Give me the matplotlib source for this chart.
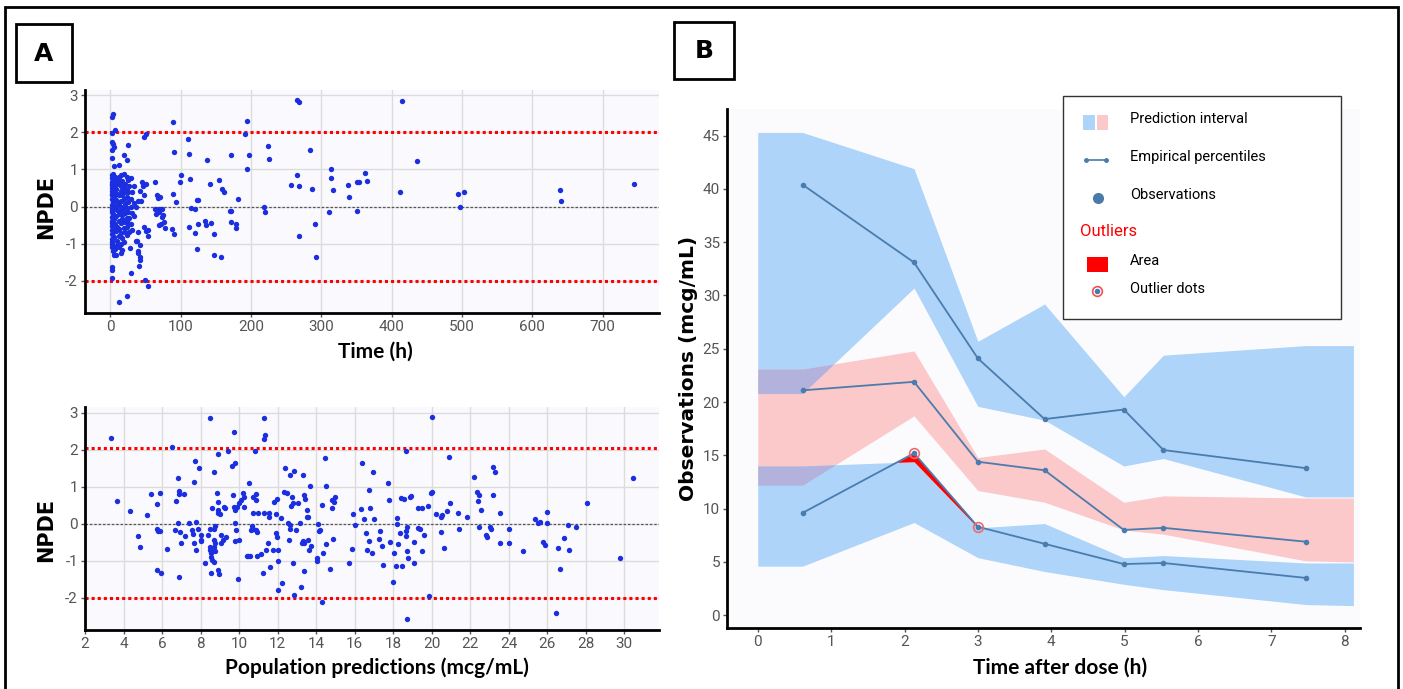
import numpy as np
import matplotlib
matplotlib.use("Agg")
import matplotlib.pyplot as plt
from matplotlib.patches import Rectangle
from matplotlib.lines import Line2D

plt.rcParams["axes.unicode_minus"] = False

W, H = 1403, 689

# ---- panel A top: NPDE vs time ----
time_pts = [
    (2, 2.40), (2, 1.97), (2, 1.75), (2, 1.52), (2, 1.30), (2, 0.85), (2, 0.78), (2, 0.65),
    (2, 0.58), (2, 0.50), (2, 0.42), (2, 0.30), (2, 0.20), (2, 0.05), (2, -0.05), (2, -0.15),
    (2, -0.28), (2, -0.40), (2, -0.52), (2, -0.62), (2, -0.75), (2, -0.88), (2, -1.00),
    (2, -1.10), (2, -1.62), (2, -1.93),
    (3, 0.60), (3, 0.35), (3, -0.10), (3, -0.45), (3, -0.95), (3, -1.72),
    (4, 2.49), (4, 1.69), (4, 0.88), (4, 0.72), (4, 0.12), (4, -0.20), (4, -0.70), (4, -1.20),
    (5, 1.60), (5, 1.10), (5, 0.55), (5, 0.40), (5, 0.25), (5, -0.02), (5, -0.35), (5, -0.60),
    (5, -0.82), (5, -1.08), (5, -1.32),
    (6, 2.06), (6, 0.80), (6, 0.45), (6, -0.48), (6, -1.15),
    (8, 0.48), (8, 0.18), (8, -0.25), (8, -0.66), (8, -1.30), (8, 0.70),
    (10, 0.62), (10, 0.35), (10, 0.05), (10, -0.10), (10, -0.55), (10, -0.92), (10, -1.05),
    (12, 0.80), (12, 0.30), (12, -0.38), (12, -0.80), (12, -1.10),
    (13, 1.12), (13, 0.65), (13, 0.10), (13, -0.20), (13, -0.60),
    (15, 0.85), (15, 0.55), (15, 0.42), (15, 0.15), (15, 0.0), (15, -0.12), (15, -0.45),
    (15, -0.72), (15, -1.02), (15, -1.25),
    (17, 0.70), (17, 0.30), (17, -0.22), (17, -0.35), (17, -0.85), (17, -1.18),
    (19, 1.40), (19, 0.88), (19, 0.50), (19, 0.20), (19, -0.05), (19, -0.58), (19, -0.95),
    (21, 0.62), (21, 0.38), (21, 0.08), (21, -0.18), (21, -0.42), (21, -0.70),
    (23, 1.26), (23, 0.80), (23, 0.45), (23, 0.25), (23, -0.05), (23, -0.30), (23, -0.55),
    (23, -0.78),
    (25, 1.66), (25, 0.72), (25, 0.40), (25, 0.12), (25, -0.15), (25, -0.45),
    (27, 0.55), (27, -0.30), (27, -0.70), (28, -1.13),
    (29, 0.78), (29, 0.20), (29, 0.0), (29, -0.48), (29, -1.79),
    (31, 0.38), (31, -0.18), (31, -0.62),
    (34, 0.55), (34, 0.10), (34, -0.25),
    (37, -0.92), (37, 0.0),
    (13, -2.58), (24, -2.42),
    (40, 0.15), (44, 0.15), (42, 0.43), (45, 0.65), (46, 0.55), (48, 0.31), (51, 0.61),
    (48, 1.88), (51, 1.96), (40, -0.70), (42, -1.05), (40, -1.20), (38, -0.94),
    (40, -1.25), (42, -1.35), (42, -1.45), (41, -1.59), (48, -0.55), (51, -0.65),
    (53, -0.62), (54, -0.80), (50, -1.97), (53, -2.13),
    (63, 0.65), (66, 0.30), (70, 0.26), (68, 0.22), (64, -0.07), (69, -0.07), (73, -0.07),
    (65, -0.20), (69, -0.15), (73, -0.28), (75, -0.22), (69, -0.50), (72, -0.46),
    (76, -0.43), (78, -0.59),
    (89, 2.29), (91, 1.48), (89, 0.33), (93, 0.13), (88, -0.60), (90, -0.74),
    (99, 0.67), (100, 0.84), (110, 1.81), (112, 1.42), (113, 0.75), (115, -0.04),
    (121, -0.07), (123, 0.18), (124, 0.18), (112, -0.54), (121, -0.72), (124, -0.48),
    (123, -1.15), (137, 1.24), (142, 0.62), (134, -0.38), (136, -0.51), (143, -0.45),
    (147, -0.74), (148, -1.32), (155, 0.71), (159, 0.48), (161, 0.38), (158, -1.35),
    (170, -0.13), (172, -0.13), (171, 1.39), (171, -0.42), (178, -0.48), (178, -0.57),
    (181, 0.19), (192, 1.95), (195, 2.31), (197, 1.38), (195, 1.00),
    (218, 0.00), (220, -0.15), (224, 1.64), (226, 1.29),
    (257, 0.59), (265, 2.87), (268, 2.83), (266, 0.85), (268, 0.56), (268, -0.79),
    (284, 1.52), (287, 0.48), (291, -0.47), (293, -1.36),
    (311, -0.15), (314, 1.00), (314, 0.76), (316, 0.44), (338, 0.57), (340, 0.25),
    (350, -0.13), (351, 0.65), (353, 0.65), (362, 0.91), (365, 0.69),
    (412, 0.40), (414, 2.85), (436, 1.22), (494, 0.35), (497, -0.01), (503, 0.39),
    (639, 0.44), (641, 0.16), (744, 0.60),
]

# ---- panel A bottom: NPDE vs population predictions ----
pred_pts = [
    (3.34, 2.32), (3.67, 0.61), (4.34, 0.34), (5.22, 0.23), (4.76, -0.33), (4.83, -0.64),
    (5.43, 0.81), (5.76, 0.52), (5.90, 0.84), (5.75, -0.15), (5.81, -0.19), (5.87, -0.19),
    (5.73, -1.25), (5.92, -1.33), (6.27, -0.68), (6.54, 2.06), (6.71, 0.61), (6.82, 1.22),
    (6.87, 0.89), (6.89, 0.80), (6.82, 0.02), (6.68, -0.18), (6.91, -0.22), (7.00, -0.52),
    (6.89, -1.44), (7.12, 0.80), (7.17, -0.33), (7.42, 0.02), (7.54, -0.17), (7.63, -0.29),
    (7.65, -0.51), (7.65, 1.12), (7.70, 1.70), (7.74, 0.05), (7.77, -0.71), (7.86, -0.13),
    (7.93, 1.49), (8.00, -0.30), (8.04, -0.44), (8.04, -0.47), (8.25, -1.05), (8.40, -0.30),
    (8.49, -0.13), (8.49, 2.84), (8.58, 0.43), (8.50, -0.62), (8.50, -0.72), (8.54, -0.80),
    (8.54, -0.89), (8.58, -0.98), (8.54, -1.34), (8.68, -0.13), (8.77, -0.06), (8.68, 1.39),
    (8.68, -0.44), (8.77, -0.53), (8.72, -0.62), (8.77, -0.73), (8.68, -1.04), (8.84, 0.83),
    (8.88, 0.59), (8.93, 0.38), (8.93, 0.30), (9.00, 0.25), (8.93, 1.87), (8.93, -1.25),
    (8.95, -1.35), (9.04, -0.30), (9.16, -0.44), (9.07, -0.53), (9.21, 0.46), (9.25, 0.43),
    (9.42, 1.96), (9.30, -0.35), (9.63, 1.56), (9.81, 1.65), (9.67, 0.77), (9.72, 0.44),
    (9.81, 0.37), (9.88, 0.46), (9.74, 2.48), (9.79, 0.01), (9.83, -0.17), (9.81, -0.47),
    (9.95, -1.50), (10.02, -0.44), (10.00, 0.55), (10.11, 0.64), (10.18, 0.82),
    (10.23, 0.73), (10.25, 0.46), (10.53, 1.09), (10.40, -0.86), (10.48, -0.86),
    (10.58, -0.86), (10.60, -0.18), (10.69, -0.05), (10.74, -0.13), (10.88, -0.17),
    (10.95, -0.22), (10.72, 0.28), (10.74, 0.72), (10.88, 0.81), (10.90, 0.64), (10.80, 1.96),
    (10.97, 0.30), (10.95, -0.86), (11.13, -0.83), (11.22, -1.33), (11.27, 2.85),
    (11.27, 2.29), (11.36, 2.39), (11.30, 0.30), (11.53, 0.30), (11.40, -0.72),
    (11.50, -0.53), (11.57, 0.17), (11.60, -1.16), (11.74, -0.71), (11.80, 0.59),
    (11.92, 0.25), (11.92, -0.24), (11.97, 0.67), (12.00, -0.71), (11.97, -0.35),
    (12.00, -1.00), (12.00, -1.78), (12.15, 0.15), (12.25, -1.60), (12.34, 0.86),
    (12.40, 1.51), (12.48, 0.82), (12.52, 0.03), (12.62, -0.04), (12.66, -0.13),
    (12.57, -0.44), (12.62, 1.31), (12.70, 0.48), (12.75, 0.73), (12.82, 0.56),
    (12.78, -1.05), (12.83, -1.92), (12.87, 1.42), (12.94, -0.17), (13.05, 0.56),
    (13.17, 0.03), (13.24, -0.53), (13.36, -0.53), (13.30, -0.48), (13.30, 1.31),
    (13.36, 0.77), (13.43, 0.66), (13.36, -1.29), (13.50, 0.19), (13.60, 0.19),
    (13.20, -1.72), (13.52, 0.37), (13.60, -0.44), (13.64, -0.71), (13.73, -0.60),
    (13.68, 1.02), (14.10, -0.02), (14.15, -0.20), (14.20, -0.17), (14.03, -0.92),
    (14.07, -1.02), (14.33, 0.50), (14.33, -2.12), (14.38, -0.80), (14.45, 1.76),
    (14.50, -0.55), (14.52, 1.01), (14.70, -1.21), (14.80, 0.43), (14.84, 0.65),
    (14.91, 0.59), (15.00, 0.72), (14.87, -0.41), (15.70, -1.07), (15.88, -0.69),
    (15.90, 0.26), (16.00, -0.03), (16.33, 0.39), (16.37, 1.64), (16.50, 0.13),
    (16.58, -0.26), (16.65, -0.71), (16.74, 0.91), (16.74, -0.47), (16.79, 0.43),
    (16.90, -0.80), (16.97, 1.40), (17.00, 0.13), (17.27, -0.42), (17.34, -0.21),
    (17.40, -0.60), (17.47, -1.11), (17.72, 1.11), (17.76, 0.64), (17.83, -0.50),
    (18.00, -1.58), (18.06, -0.78), (18.13, -1.13), (18.18, 0.16), (18.22, -0.02),
    (18.25, -0.56), (18.34, -0.24), (18.43, 0.68), (18.55, 0.66), (18.48, -1.14),
    (18.64, -0.19), (18.71, -0.08), (18.67, -0.33), (18.69, 1.96), (18.71, -0.73),
    (18.74, -2.57), (18.76, -0.93), (18.85, 0.71), (18.90, 0.74), (19.08, -0.50),
    (19.08, -1.07), (19.27, -0.11), (19.38, -0.13), (19.27, 0.43), (19.50, 0.43),
    (19.47, -0.75), (19.60, -0.30), (19.83, 0.47), (19.88, -1.95), (19.96, 0.82),
    (20.03, 0.86), (20.00, 2.87), (20.22, 0.25), (20.50, -0.23), (20.50, 0.17),
    (20.53, 0.23), (20.66, -0.66), (20.78, 0.34), (20.90, 1.80), (20.96, 0.57),
    (21.38, 0.30), (21.40, -0.15), (21.84, 0.19), (22.17, 1.26), (22.33, 0.86),
    (22.40, 0.62), (22.44, -0.08), (22.47, 0.77), (22.54, 0.37), (22.80, -0.31),
    (22.86, -0.35), (23.05, -0.10), (23.10, -0.15), (23.16, 1.53), (23.19, 0.77),
    (23.30, 1.40), (23.53, 0.28), (23.55, -0.53), (24.02, -0.13), (24.02, -0.53),
    (24.76, -0.74), (25.37, 0.14), (25.50, 0.01), (25.60, 0.05), (25.80, -0.49),
    (25.90, -0.57), (25.97, 0.03), (26.00, 0.32), (26.45, -2.41), (26.57, -0.66),
    (26.66, -1.23), (26.85, -0.39), (27.08, -0.04), (27.15, -0.71), (27.50, -0.08),
    (28.08, 0.57), (29.77, -0.93), (30.47, 1.24),
]

# ---- panel B: VPC ----
t_band = [0, 0.61, 2.13, 3.0, 3.91, 4.99, 5.53, 7.47, 8.12]
upper_hi = [45.3, 45.3, 41.9, 25.7, 29.2, 20.5, 24.4, 25.3, 25.3]
upper_lo = [20.8, 20.8, 30.7, 19.6, 18.3, 14.0, 14.7, 11.1, 11.1]
median_hi = [23.1, 23.1, 24.8, 14.8, 15.6, 10.6, 11.2, 11.0, 11.0]
median_lo = [12.2, 12.2, 18.7, 11.7, 10.6, 8.0, 7.6, 5.1, 5.0]
lower_hi = [14.0, 14.0, 14.4, 8.2, 8.6, 5.4, 5.6, 4.9, 4.9]
lower_lo = [4.6, 4.6, 8.7, 5.4, 4.1, 2.9, 2.4, 1.0, 0.9]

t_emp = [0.61, 2.13, 3.0, 3.91, 4.99, 5.53, 7.47]
p90 = [40.4, 33.1, 24.1, 18.4, 19.3, 15.5, 13.8]
p50 = [21.1, 21.9, 14.4, 13.6, 8.0, 8.2, 6.9]
p10 = [9.6, 15.2, 8.3, 6.7, 4.8, 4.9, 3.5]
outlier_t = [2.13, 3.0]
outlier_v = [15.2, 8.3]

BLUE = "#aed4fa"
PINK = "#fbc9ca"
PURPLE = "#b2b2dc"
LINE = "#4a7cad"
DOT = "#1b2fe0"
TICKFONT = ["Roboto", "DejaVu Sans"]


def ax_rect(x0, y0, x1, y1):
    return [x0 / W, 1 - y1 / H, (x1 - x0) / W, (y1 - y0) / H]


def fx(x):
    return x / W


def fy(y):
    return 1 - y / H


def style(ax, grid=True):
    ax.set_facecolor("#fafafe")
    for s in ["top", "right"]:
        ax.spines[s].set_visible(False)
    for s in ["left", "bottom"]:
        ax.spines[s].set_linewidth(2)
        ax.spines[s].set_color("black")
    ax.tick_params(length=3, width=1, colors="#555555", labelsize=11, pad=2)
    for lab in ax.get_xticklabels() + ax.get_yticklabels():
        lab.set_family(TICKFONT)
    if grid:
        ax.grid(True, color="#dcdcdc", lw=1)
        ax.set_axisbelow(True)


fig = plt.figure(figsize=(W / 100, H / 100), dpi=100)

# top-left
ax1 = fig.add_axes(ax_rect(85, 90, 659, 313))
tp = np.array(time_pts)
ax1.scatter(tp[:, 0], tp[:, 1], s=15, color=DOT, zorder=3, linewidths=0)
ax1.axhline(2, color="red", ls=(0, (1, 1)), lw=2.2, zorder=2)
ax1.axhline(-2, color="red", ls=(0, (1, 1)), lw=2.2, zorder=2)
ax1.axhline(0, color="#555555", ls=(0, (2, 1.5)), lw=0.9, zorder=2)
ax1.set_xlim(-36, 780)
ax1.set_ylim(-2.87, 3.14)
ax1.set_xticks(range(0, 800, 100))
ax1.set_yticks([-2, -1, 0, 1, 2, 3])
style(ax1)

# bottom-left
ax2 = fig.add_axes(ax_rect(85, 407, 659, 630))
pp = np.array(pred_pts)
ax2.scatter(pp[:, 0], pp[:, 1], s=15, color=DOT, zorder=3, linewidths=0)
ax2.axhline(2.05, color="red", ls=(0, (1, 1)), lw=2.2, zorder=2)
ax2.axhline(-2, color="red", ls=(0, (1, 1)), lw=2.2, zorder=2)
ax2.axhline(0, color="#555555", ls=(0, (2, 1.5)), lw=0.9, zorder=2)
ax2.set_xlim(2, 31.8)
ax2.set_ylim(-2.87, 3.15)
ax2.set_xticks(range(2, 32, 2))
ax2.set_yticks([-2, -1, 0, 1, 2, 3])
style(ax2)

# right: VPC
ax3 = fig.add_axes(ax_rect(727, 109, 1360, 628))
tb = np.array(t_band)
ax3.fill_between(tb, upper_lo, upper_hi, color=BLUE, lw=0, zorder=1)
ax3.fill_between(tb, median_lo, median_hi, color=PINK, lw=0, zorder=1)
ax3.fill_between(tb, lower_lo, lower_hi, color=BLUE, lw=0, zorder=1)
uh, ul = np.array(median_hi), np.array(upper_lo)
ax3.fill_between(tb, ul, uh, where=uh > ul, interpolate=True, color=PURPLE, lw=0, zorder=1.5)
lh, ml = np.array(lower_hi), np.array(median_lo)
ax3.fill_between(tb, ml, lh, where=lh > ml, interpolate=True, color=PURPLE, lw=0, zorder=1.5)
lb = np.array(lower_hi[1:-1])
pe = np.array(p10)
ax3.fill_between(t_emp, lb, pe, where=pe > lb, interpolate=True, color="red", lw=0, zorder=2)
for series in (p90, p50, p10):
    ax3.plot(t_emp, series, color=LINE, lw=1.3, marker="o", ms=3, zorder=3)
ax3.plot(outlier_t, outlier_v, ls="none", marker="o", ms=7, mfc="none", mec="#f06a6a",
         mew=1.2, zorder=4)
ax3.set_xlim(-0.42, 8.21)
ax3.set_ylim(-1.2, 47.5)
ax3.set_xticks(range(0, 9))
ax3.set_yticks(range(0, 50, 5))
style(ax3, grid=False)
ax3.set_facecolor("#fbfbfe")

# axis labels
fig.text(fx(46), fy(207), "NPDE", rotation=90, ha="center", va="center",
         fontsize=15, fontweight="bold", family="DejaVu Sans")
fig.text(fx(46), fy(530), "NPDE", rotation=90, ha="center", va="center",
         fontsize=15, fontweight="bold", family="DejaVu Sans")
fig.text(fx(375), fy(352), "Time (h)", ha="center", va="center",
         fontsize=15, fontweight="bold", family="Lato")
fig.text(fx(377), fy(668), "Population predictions (mcg/mL)", ha="center", va="center",
         fontsize=15, fontweight="bold", family="Lato")
fig.text(fx(1060), fy(668), "Time after dose (h)", ha="center", va="center",
         fontsize=15, fontweight="bold", family="Lato")
fig.text(fx(688), fy(368), "Observations (mcg/mL)", rotation=90, ha="center", va="center",
         fontsize=14.5, fontweight="bold", family="DejaVu Sans")

# panel label boxes and outer frame
def pbox(x0, y0, x1, y1):
    fig.patches.append(Rectangle((fx(x0), fy(y1)), (x1 - x0) / W, (y1 - y0) / H,
                                 transform=fig.transFigure, fill=False, ec="black", lw=2))

pbox(5, 7, 1398, 692)
pbox(16, 24, 72, 82)
pbox(674, 22, 734, 79)
fig.text(fx(44), fy(54), "A", ha="center", va="center", fontsize=18, fontweight="bold",
         family="DejaVu Sans")
fig.text(fx(704), fy(51), "B", ha="center", va="center", fontsize=18, fontweight="bold",
         family="DejaVu Sans")

# legend for panel B
fig.patches.append(Rectangle((fx(1063), fy(319)), 278 / W, 223 / H, transform=fig.transFigure,
                             fc="white", ec="#333333", lw=1, zorder=5))
fig.patches.append(Rectangle((fx(1083), fy(130)), 12 / W, 15 / H, transform=fig.transFigure,
                             fc=BLUE, ec="none", zorder=6))
fig.patches.append(Rectangle((fx(1097), fy(130)), 11 / W, 15 / H, transform=fig.transFigure,
                             fc=PINK, ec="none", zorder=6))
fig.lines.append(Line2D([fx(1086), fx(1106)], [fy(160), fy(160)], transform=fig.transFigure,
                        color=LINE, lw=1.2, marker="o", ms=2.5, zorder=6))
fig.lines.append(Line2D([fx(1098)], [fy(198)], transform=fig.transFigure, color="#4a7aa8",
                        marker="o", ms=7, ls="none", zorder=6))
fig.patches.append(Rectangle((fx(1087), fy(272)), 21 / W, 15 / H, transform=fig.transFigure,
                             fc="red", ec="none", zorder=6))
fig.lines.append(Line2D([fx(1097)], [fy(291)], transform=fig.transFigure, ls="none",
                        marker="o", ms=7, mfc="white", mec="#f05050", mew=1.2, zorder=6))
fig.lines.append(Line2D([fx(1097)], [fy(291)], transform=fig.transFigure, ls="none",
                        marker="o", ms=3, color=LINE, zorder=7))
leg_font = dict(fontsize=10.5, family="Roboto", va="center", ha="left", zorder=7)
fig.text(fx(1130), fy(119), "Prediction interval", **leg_font)
fig.text(fx(1130), fy(157), "Empirical percentiles", **leg_font)
fig.text(fx(1130), fy(195), "Observations", **leg_font)
fig.text(fx(1080), fy(231), "Outliers", color="red", fontsize=12, family="Roboto",
         va="center", ha="left", zorder=7)
fig.text(fx(1130), fy(261), "Area", **leg_font)
fig.text(fx(1130), fy(289), "Outlier dots", **leg_font)

fig.savefig("out.png", dpi=100)
